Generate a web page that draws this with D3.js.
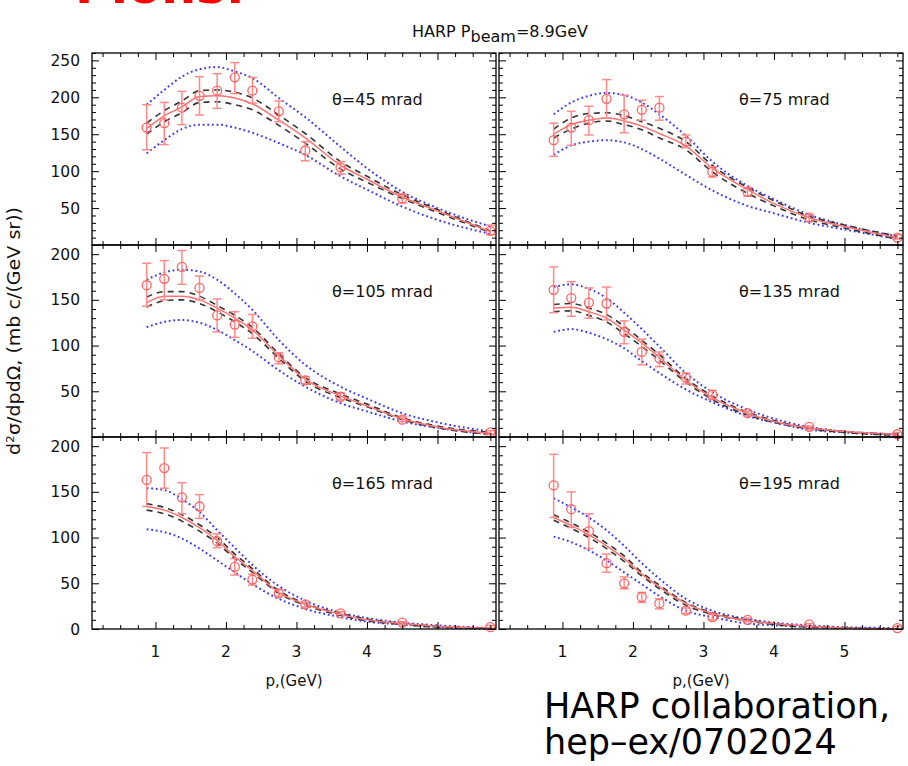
<!DOCTYPE html>
<html>
<head>
<meta charset="utf-8">
<script src="https://cdn.jsdelivr.net/npm/d3@7"></script>
<style>
body{margin:0;background:#fff;}
svg text{font-family:"DejaVu Sans",sans-serif;}
</style>
</head>
<body>
<svg id="chart"></svg>
<script>
var pBins  = [0.875,1.125,1.375,1.625,1.875,2.125,2.375,2.75,3.125,3.625,4.5,5.75];
var pCurve = [0.875,1.125,1.375,1.625,1.875,2.125,2.375,2.75,3.125,3.625,4.0,4.5,5.0,5.75];
var thetas = [45,75,105,135,165,195];
var xTicks = [1,2,3,4,5];

// theta = 45 mrad
var data45   = [159,165,186,202,209,227,209,181,128,105,63,19];
var errHi45  = [190,193,208,228,232,247,227,195,140,113,69,27];
var errLo45  = [129,136,163,176,185,205,192,167,114,96,57,14];
var fit45    = [158,175,187,201,202,199,191,169,145,108,89,65,46,18];
var fitUp45  = [165,182,195,209,210,207,199,176,151,113,93,68,48,19];
var fitDn45  = [150,167,179,193,194,190,183,162,138,103,85,63,44,17];
var bandUp45 = [190,210,228,238,241,235,226,199,173,133,104,72,50,25];
var bandDn45 = [124,142,157,163,163,159,152,138,122,93,75,52,34,15];
// theta = 75 mrad
var data75   = [142,159,169,198,177,183,186,140,99,72,37,10];
var errHi75  = [165,181,188,224,203,196,201,149,106,78,41,14];
var errLo75  = [120,135,149,172,152,169,169,132,92,66,32,8];
var fit75    = [150,163,169,172,168,161,151,134,104,75,56,37,25,10];
var fitUp75  = [157,172,178,179,175,167,158,140,108,78,60,39,27,12];
var fitDn75  = [145,157,165,168,163,156,145,129,99,70,53,34,23,8];
var bandUp75 = [177,193,202,206,203,193,177,148,113,80,62,41,27,12];
var bandDn75 = [122,135,140,142,139,130,117,95,74,53,43,30,21,8];
// theta = 105 mrad
var data105   = [166,173,186,163,133,123,121,87,62,44,19,5];
var errHi105  = [190,193,204,176,151,137,134,92,66,48,22,7];
var errLo105  = [143,150,167,150,115,109,108,80,58,41,17,3];
var fit105    = [147,154,154,150,141,130,117,89,63,45,34,20,11,4];
var fitUp105  = [153,159,159,154,144,133,120,91,65,47,36,21,12,5];
var fitDn105  = [142,149,150,146,137,126,113,86,61,43,33,19,10,3];
var bandUp105 = [172,180,183,181,172,157,139,106,79,55,42,26,16,6];
var bandDn105 = [120,126,128,125,117,106,94,73,55,37,28,17,10,3];
// theta = 135 mrad
var data135   = [161,152,147,146,115,93,86,65,46,26,11,3];
var errHi135  = [186,170,163,164,127,107,93,70,51,28,12,5];
var errLo135  = [136,132,130,128,102,79,77,58,41,23,8,1];
var fit135    = [141,142,137,130,117,103,87,62,43,26,17,10,6,3];
var fitUp135  = [145,146,141,134,121,106,90,64,45,27,18,10,6,3];
var fitDn135  = [137,138,133,126,113,99,84,60,41,24,16,9,5,2];
var bandUp135 = [164,167,162,152,136,118,99,70,49,30,20,11,6,3];
var bandDn135 = [115,118,114,107,97,83,70,52,38,23,16,8,5,2];
// theta = 165 mrad
var data165   = [163,176,144,134,96,68,54,39,27,17,7,2];
var errHi165  = [193,198,160,147,104,77,60,43,29,19,8,4];
var errLo165  = [134,154,126,121,89,59,48,36,24,16,5,1];
var fit165    = [134,130,122,111,97,79,64,40,27,16,10,6,3,1];
var fitUp165  = [137,133,125,114,100,82,66,42,28,17,11,6,3,1];
var fitDn165  = [130,126,118,107,94,77,62,39,26,15,9,5,2,1];
var bandUp165 = [154,152,142,128,108,89,70,47,31,18,12,7,4,1];
var bandDn165 = [109,106,99,88,75,62,49,33,22,13,8,5,2,0];
// theta = 195 mrad
var data195   = [157,131,107,72,50,35,28,20,13,10,5,1];
var errHi195  = [191,150,126,82,57,40,33,23,16,12,6,3];
var errLo195  = [122,111,88,62,44,29,22,17,10,8,3,0];
var fit195    = [122,113,103,91,77,60,46,28,17,9,6,3,1,0];
var fitUp195  = [125,116,106,94,80,62,48,29,18,10,6,3,1,0];
var fitDn195  = [119,110,100,88,74,58,44,26,16,9,5,2,1,0];
var bandUp195 = [143,133,122,108,91,72,55,33,20,11,7,4,2,1];
var bandDn195 = [101,95,86,75,62,49,36,20,13,6,4,2,1,0];

var panels = [
  {data:data45, hi:errHi45, lo:errLo45, fit:fit45, up:fitUp45, dn:fitDn45, bu:bandUp45, bd:bandDn45},
  {data:data75, hi:errHi75, lo:errLo75, fit:fit75, up:fitUp75, dn:fitDn75, bu:bandUp75, bd:bandDn75},
  {data:data105, hi:errHi105, lo:errLo105, fit:fit105, up:fitUp105, dn:fitDn105, bu:bandUp105, bd:bandDn105},
  {data:data135, hi:errHi135, lo:errLo135, fit:fit135, up:fitUp135, dn:fitDn135, bu:bandUp135, bd:bandDn135},
  {data:data165, hi:errHi165, lo:errLo165, fit:fit165, up:fitUp165, dn:fitDn165, bu:bandUp165, bd:bandDn165},
  {data:data195, hi:errHi195, lo:errLo195, fit:fit195, up:fitUp195, dn:fitDn195, bu:bandUp195, bd:bandDn195}
];

var width=908, height=766;
var svg=d3.select("#chart").attr("width",width).attr("height",height);

var pw=404, ph=192;
var colX=[92,499], rowY=[53,245,437];
var yMax=[260,210,210];
var pRange=[0.1,5.83];

var xMinor=d3.range(0.25,5.83,0.25).filter(function(v){return v%1!=0;});

panels.forEach(function(p,i){
  var col=i%2, row=Math.floor(i/2);
  var x=d3.scaleLinear().domain(pRange).range([colX[col],colX[col]+pw]);
  var y=d3.scaleLinear().domain([0,yMax[row]]).range([rowY[row]+ph,rowY[row]]);
  var g=svg.append("g");

  var line=d3.line()
    .x(function(d,j){return x(pCurve[j]);})
    .y(function(d){return y(d);})
    .curve(d3.curveMonotoneX);

  //blue band
  [p.bu,p.bd].forEach(function(c){
    g.append("path").datum(c)
      .attr("fill","none").attr("stroke","#3a3aff").attr("stroke-width",2)
      .attr("stroke-dasharray","1.8,2.8").attr("d",line);
  });
  //black dashed band
  [p.up,p.dn].forEach(function(c){
    g.append("path").datum(c)
      .attr("fill","none").attr("stroke","#333").attr("stroke-width",1.6)
      .attr("stroke-dasharray","6,5").attr("d",line);
  });
  //fit
  g.append("path").datum(p.fit)
    .attr("fill","none").attr("stroke","#ff7272").attr("stroke-width",1.5)
    .attr("d",line);

  //error bars
  var eb=g.append("g").attr("stroke","#ff8a8a").attr("stroke-width",1.5);
  pBins.forEach(function(b,j){
    var cx=x(b);
    eb.append("line").attr("x1",cx).attr("x2",cx).attr("y1",y(p.lo[j])).attr("y2",y(p.hi[j]));
    eb.append("line").attr("x1",cx-4.5).attr("x2",cx+4.5).attr("y1",y(p.lo[j])).attr("y2",y(p.lo[j]));
    eb.append("line").attr("x1",cx-4.5).attr("x2",cx+4.5).attr("y1",y(p.hi[j])).attr("y2",y(p.hi[j]));
  });
  g.selectAll("circle.pt").data(p.data).enter().append("circle")
    .attr("cx",function(d,j){return x(pBins[j]);})
    .attr("cy",function(d){return y(d);})
    .attr("r",4.5).attr("fill","none").attr("stroke","#ff6464").attr("stroke-width",1.3);

  //frame
  g.append("rect").attr("x",colX[col]).attr("y",rowY[row]).attr("width",pw).attr("height",ph)
    .attr("fill","none").attr("stroke","#000").attr("stroke-width",1.3);

  var yMajor=d3.range(0,yMax[row]+1,50);
  var yMin=d3.range(10,yMax[row]+1,10).filter(function(v){return v%50!=0;});
  var bottom=rowY[row]+ph, top=rowY[row], left=colX[col], right=colX[col]+pw;

  function ax(a,pos,vals,size){
    var gg=g.append("g").attr("transform",pos)
      .call(a.tickValues(vals).tickSize(size).tickSizeOuter(0).tickFormat(""));
    gg.select(".domain").remove();
    gg.selectAll("line").attr("stroke","#000").attr("stroke-width",1);
    return gg;
  }
  ax(d3.axisBottom(x),"translate(0,"+bottom+")",xTicks,-7);
  ax(d3.axisBottom(x),"translate(0,"+bottom+")",xMinor,-4);
  ax(d3.axisTop(x),"translate(0,"+top+")",xTicks,-7);
  ax(d3.axisTop(x),"translate(0,"+top+")",xMinor,-4);
  ax(d3.axisLeft(y),"translate("+left+",0)",yMajor,-7);
  ax(d3.axisLeft(y),"translate("+left+",0)",yMin,-4);
  ax(d3.axisRight(y),"translate("+right+",0)",yMajor,-7);
  ax(d3.axisRight(y),"translate("+right+",0)",yMin,-4);

  //tick labels
  if(col==0){
    var labs=yMajor.filter(function(v){return v>0||row==2;});
    g.selectAll("text.yl").data(labs).enter().append("text")
      .attr("x",left-12).attr("y",function(d){return y(d)+5.5;})
      .attr("text-anchor","end").attr("font-size",15.5).attr("fill","#111")
      .text(function(d){return d;});
  }
  if(row==2){
    g.selectAll("text.xl").data(xTicks).enter().append("text")
      .attr("x",function(d){return x(d);}).attr("y",bottom+28)
      .attr("text-anchor","middle").attr("font-size",15.5).attr("fill","#111")
      .text(function(d){return d;});
    g.append("text").attr("x",(left+right)/2).attr("y",bottom+57)
      .attr("text-anchor","middle").attr("font-size",15).attr("fill","#111")
      .text("p,(GeV)");
  }
  g.append("text").attr("x",left+240).attr("y",top+52)
    .attr("font-size",16).attr("fill","#111")
    .text("\u03b8="+thetas[i]+" mrad");
});

//title
var t=svg.append("text").attr("x",412).attr("y",37).attr("font-size",16).attr("fill","#111");
t.append("tspan").text("HARP P");
t.append("tspan").attr("dy",5).text("beam");
t.append("tspan").attr("dy",-5).text("=8.9GeV");

//y label
var yl=svg.append("text").attr("transform","translate(20,331) rotate(-90)")
  .attr("text-anchor","middle").attr("font-size",17).attr("fill","#111")
  .attr("textLength",248).attr("lengthAdjust","spacingAndGlyphs");
yl.append("tspan").text("d");
yl.append("tspan").attr("dy",-6).attr("font-size",11).text("2");
yl.append("tspan").attr("dy",6).text("\u03c3/dpd\u03a9, (mb c/(GeV sr))");

//red heading, cut by the top edge
svg.append("text").attr("x",75).attr("y",3).attr("font-size",49).attr("font-weight","bold")
  .attr("fill","#ff0000").text("Pions:");

svg.append("text").attr("x",544).attr("y",718).attr("font-size",35).attr("fill","#000")
  .text("HARP collaboration,");
svg.append("text").attr("x",544).attr("y",754).attr("font-size",35).attr("fill","#000")
  .text("hep\u2013ex/0702024");
</script>
</body>
</html>
